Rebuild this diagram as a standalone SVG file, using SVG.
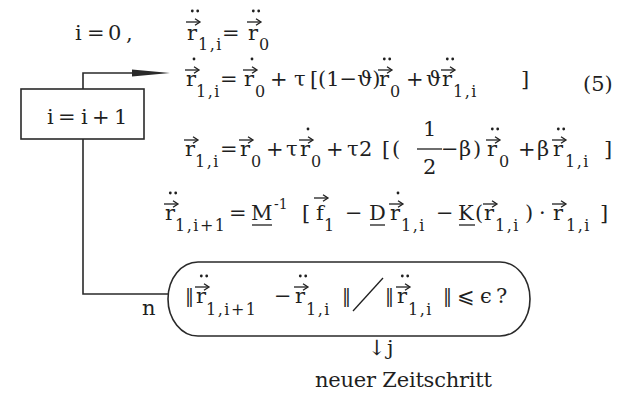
<svg xmlns="http://www.w3.org/2000/svg" width="630" height="394" viewBox="0 0 630 394">
<style>
text{font-family:"DejaVu Serif","Liberation Serif",serif;font-size:21px;fill:#1f1f1f}
.s{font-size:16px;letter-spacing:1.5px}
.sup{font-size:14px}
.bar{font-size:18px}
.ln{stroke:#2a2a2a;stroke-width:1.6;fill:none}
.thin{stroke:#1f1f1f;stroke-width:1.3;fill:none}
.dot{fill:#1f1f1f}
</style>
<defs>
<g id="arr"><path class="thin" d="M0,0 H13"/><path class="thin" d="M9,-3.3 L14,0 L9,3.3"/></g>
<g id="dd"><circle class="dot" cx="-2.7" cy="0" r="1.4"/><circle class="dot" cx="2.7" cy="0" r="1.4"/></g>
<g id="d1"><circle class="dot" cx="0" cy="0" r="1.4"/></g>
</defs>
<rect width="630" height="394" fill="#fff"/>

<g id="connectors">
<path class="ln" d="M83,89 V73 H134"/>
<path d="M132,69.5 L170,73 L132,76.5 Z" fill="#2a2a2a"/>
<path class="ln" d="M83,139 V294 H168"/>
</g>

<g id="node-inc">
<rect class="ln" x="21" y="89" width="123" height="50"/>
<text y="124"><tspan x="47">i</tspan><tspan x="58">=</tspan><tspan x="81">i</tspan><tspan x="92">+</tspan><tspan x="114">1</tspan></text>
</g>

<g id="eq-init">
<text y="40"><tspan x="75">i</tspan><tspan x="87">=</tspan><tspan x="108">0</tspan><tspan x="126">,</tspan></text>
<text x="187" y="40">r</text><use href="#arr" x="186" y="22"/><use href="#dd" x="195" y="11"/>
<text class="s" x="198" y="50">1,i</text>
<text x="222" y="40">=</text>
<text x="248" y="40">r</text><use href="#arr" x="247" y="22"/><use href="#dd" x="256" y="11"/>
<text class="s" x="259" y="50">0</text>
</g>

<g id="eq-v">
<text x="186" y="86">r</text><use href="#arr" x="185" y="70"/><use href="#d1" x="194" y="59"/>
<text class="s" x="196" y="97">1,i</text>
<text x="220" y="86">=</text>
<text x="244" y="86">r</text><use href="#arr" x="243" y="70"/><use href="#d1" x="252" y="59"/>
<text class="s" x="255" y="97">0</text>
<text x="270" y="86">+</text>
<text x="294" y="86">τ</text>
<text x="310" y="86">[</text>
<text x="318" y="86" font-size="18">(1−ϑ)</text>
<text x="379" y="86">r</text><use href="#arr" x="378" y="70"/><use href="#dd" x="387" y="59"/>
<text class="s" x="390" y="97">0</text>
<text x="406" y="86">+</text>
<text x="426" y="86">ϑ</text>
<text x="442" y="86">r</text><use href="#arr" x="441" y="70"/><use href="#dd" x="450" y="59"/>
<text class="s" x="453" y="97">1,i</text>
<text x="521" y="86">]</text>
<text x="583" y="91">(5)</text>
</g>

<g id="eq-x">
<text x="185" y="156">r</text><use href="#arr" x="184" y="140"/>
<text class="s" x="195" y="167">1,i</text>
<text x="220" y="156">=</text>
<text x="240" y="156">r</text><use href="#arr" x="239" y="140"/>
<text class="s" x="251" y="167">0</text>
<text x="266" y="156">+</text>
<text x="286" y="156">τ</text>
<text x="300" y="156">r</text><use href="#arr" x="299" y="140"/><use href="#d1" x="308" y="129"/>
<text class="s" x="311" y="167">0</text>
<text x="326" y="156">+</text>
<text y="156"><tspan x="347">τ</tspan><tspan x="359">2</tspan></text>
<text y="156"><tspan x="382">[</tspan><tspan x="392">(</tspan></text>
<text x="423" y="136">1</text>
<path class="thin" d="M417,149 H442"/>
<text x="423" y="174">2</text>
<text x="441" y="156">−</text>
<text y="156"><tspan x="459">β</tspan><tspan x="473">)</tspan></text>
<text x="487" y="156">r</text><use href="#arr" x="486" y="140"/><use href="#dd" x="495" y="129"/>
<text class="s" x="499" y="167">0</text>
<text x="518" y="156">+</text>
<text x="537" y="156">β</text>
<text x="553" y="156">r</text><use href="#arr" x="552" y="140"/><use href="#dd" x="561" y="129"/>
<text class="s" x="565" y="167">1,i</text>
<text x="604" y="156">]</text>
</g>

<g id="eq-a">
<text x="165" y="220">r</text><use href="#arr" x="164" y="204"/><use href="#dd" x="173" y="193"/>
<text class="s" x="175" y="231">1,i+1</text>
<text x="229" y="220">=</text>
<text x="251" y="220">M</text><path class="thin" d="M252,225 H272"/>
<text class="sup" x="274" y="209">-1</text>
<text x="302" y="220">[</text>
<text x="316" y="220">f</text><use href="#arr" x="314" y="198"/>
<text class="s" x="324" y="231">1</text>
<text x="345" y="220">−</text>
<text x="369" y="220">D</text><path class="thin" d="M370,225 H385"/>
<text x="390" y="220">r</text><use href="#arr" x="389" y="204"/><use href="#d1" x="398" y="193"/>
<text class="s" x="401" y="231">1,i</text>
<text x="436" y="220">−</text>
<text x="458" y="220">K</text><path class="thin" d="M459,225 H475"/>
<text x="475" y="220">(</text>
<text x="484" y="220">r</text><use href="#arr" x="483" y="204"/>
<text class="s" x="495" y="231">1,i</text>
<text x="525" y="220">)</text>
<text x="539" y="220">·</text>
<text x="553" y="220">r</text><use href="#arr" x="552" y="204"/>
<text class="s" x="566" y="231">1,i</text>
<text x="600" y="220">]</text>
</g>

<g id="node-test">
<path class="ln" d="M198,262 H500 A30,37 0 0 1 500,336 H198 A30,37 0 0 1 198,262 Z"/>
<text class="bar" x="185" y="302">‖</text>
<text x="196" y="303">r</text><use href="#arr" x="195" y="287"/><use href="#dd" x="204" y="276"/>
<text class="s" x="206" y="315">1,i+1</text>
<text x="274" y="303">−</text>
<text x="295" y="303">r</text><use href="#arr" x="294" y="287"/><use href="#dd" x="303" y="276"/>
<text class="s" x="306" y="315">1,i</text>
<text class="bar" x="342" y="302">‖</text>
<path class="thin" d="M353,311 L383,278"/>
<text class="bar" x="385" y="302">‖</text>
<text x="397" y="303">r</text><use href="#arr" x="396" y="287"/><use href="#dd" x="405" y="276"/>
<text class="s" x="408" y="315">1,i</text>
<text class="bar" x="443" y="302">‖</text>
<text x="457" y="303">⩽</text>
<text x="480" y="303">ϵ</text>
<text x="496" y="303">?</text>
</g>

<g id="labels">
<text x="142" y="315">n</text>
<text x="368" y="355" font-size="18">↓</text>
<text x="387" y="355">j</text>
<text x="315" y="387" textLength="177">neuer Zeitschritt</text>
</g>
</svg>
